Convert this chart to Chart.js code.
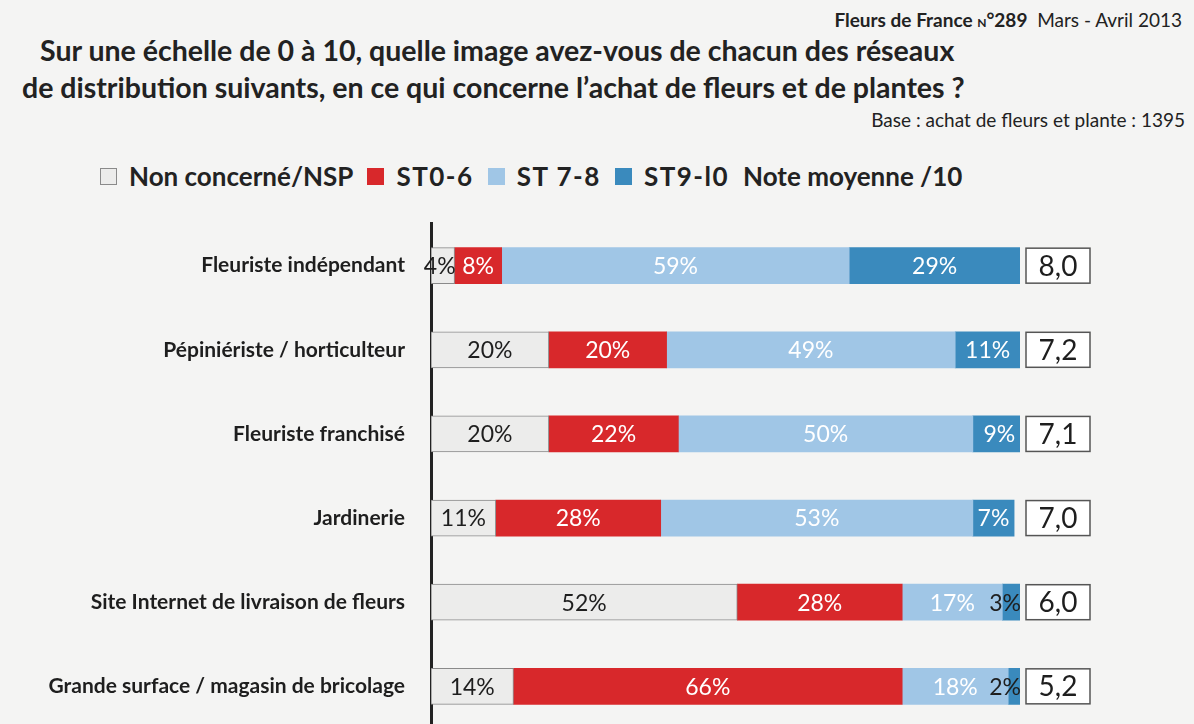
<!DOCTYPE html>
<html>
<head>
<meta charset="utf-8">
<script src="https://cdn.jsdelivr.net/npm/chart.js@4.4.0/dist/chart.umd.min.js"></script>
<style>
  html, body { margin: 0; padding: 0; }
  body { width: 1194px; height: 724px; overflow: hidden; background: #f4f4f3; font-family: Lato, "Open Sans", sans-serif; color: #222; position: relative; }
  .header { position: absolute; right: 12px; top: 8px; font-size: 19px; white-space: nowrap; }
  .header b { font-weight: 700; }
  .header .n { font-size: 12px; font-weight: 700; }
  .title { position: absolute; left: 0; top: 32px; font-size: 28.5px; font-weight: 700; line-height: 37px; white-space: nowrap; }
  .title .l1 { padding-left: 40px; }
  .title .l2 { padding-left: 22px; }
  .base { position: absolute; right: 9px; top: 108px; font-size: 19px; white-space: nowrap; }
  #legend { position: absolute; left: 100px; top: 160px; font-size: 26px; font-weight: 700; white-space: nowrap; display: flex; align-items: center; }
  #legend .sw { display: inline-block; width: 15px; height: 15px; border: 1px solid #777; margin: 0 12px 0 0; }
  #legend .it { display: inline-flex; align-items: center; margin-right: 14px; }
  #legend .st { letter-spacing: 1.5px; }
  .wrap { position: absolute; left: 0; top: 185px; width: 1194px; height: 582px; }
</style>
</head>
<body>
<div class="header"><b>Fleurs de France <span class="n">N</span>°289</b>&nbsp; Mars - Avril 2013</div>
<div class="title">
  <div class="l1">Sur une échelle de 0 à 10, quelle image avez-vous de chacun des réseaux</div>
  <div class="l2">de distribution suivants, en ce qui concerne l’achat de fleurs et de plantes ?</div>
</div>
<div class="base">Base : achat de fleurs et plante : 1395</div>
<div id="legend"></div>
<div class="wrap"><canvas id="grafico"></canvas></div>

<script>
// Données
var categories = ["Fleuriste indépendant", "Pépiniériste / horticulteur", "Fleuriste franchisé",
  "Jardinerie", "Site Internet de livraison de fleurs", "Grande surface / magasin de bricolage"];
var seriesNames = ["Non concerné/NSP", "ST0-6", "ST 7-8", "ST9-l0"];
var nonConcerne = [4, 20, 20, 11, 52, 14];
var st06 = [8, 20, 22, 28, 28, 66];
var st78 = [59, 49, 50, 53, 17, 18];
var st910 = [29, 11, 9, 7, 3, 2];
var noteMoyenne = ["8,0", "7,2", "7,1", "7,0", "6,0", "5,2"];
var noteLabel = "Note moyenne /10";

var fills = ["#ececeb", "#d8282b", "#a0c6e6", "#3a8abd"];
var borders = ["#8a8a8a", "#d8282b", "#a0c6e6", "#3a8abd"];
var textColors = ["#1e1e1e", "#ffffff", "#ffffff", "#ffffff"];

// legende html
var lg = document.getElementById("legend");
seriesNames.forEach(function (n, i) {
  var s = document.createElement("span");
  s.className = "it";
  s.innerHTML = '<span class="sw" style="background:' + fills[i] + ';border-color:' + borders[i] + '"></span>' +
    '<span class="' + (i > 0 ? "st" : "") + '">' + n + '</span>';
  lg.appendChild(s);
});
var nl = document.createElement("span");
nl.className = "it";
nl.textContent = noteLabel;
lg.appendChild(nl);

// labels + boites de note
var labelsPlugin = {
  id: "labelsPlugin",
  afterDatasetsDraw: function (chart) {
    var ctx = chart.ctx;
    var xs = chart.scales.x;
    ctx.save();
    ctx.font = "23px Lato";
    ctx.textBaseline = "middle";
    chart.data.datasets.forEach(function (ds, di) {
      var meta = chart.getDatasetMeta(di);
      meta.data.forEach(function (bar, i) {
        var v = ds.data[i];
        var txt = v + "%";
        var left = Math.min(bar.base, bar.x), right = Math.max(bar.base, bar.x);
        var w = ctx.measureText(txt).width;
        if (w > right - left - 4) {
          ctx.fillStyle = "#1e1e1e";
          ctx.textAlign = "right";
          ctx.fillText(txt, right + 1, bar.y + 1);
        } else {
          ctx.fillStyle = textColors[di];
          ctx.textAlign = "center";
          ctx.fillText(txt, (left + right) / 2, bar.y + 1);
        }
      });
    });
    // note moyenne
    var meta0 = chart.getDatasetMeta(0);
    var bx = xs.getPixelForValue(100) + 6;
    meta0.data.forEach(function (bar, i) {
      var h = 35, bw = 64;
      ctx.fillStyle = "#ffffff";
      ctx.fillRect(bx, bar.y - h / 2, bw, h);
      ctx.strokeStyle = "#555";
      ctx.lineWidth = 1.5;
      ctx.strokeRect(bx, bar.y - h / 2, bw, h);
      ctx.fillStyle = "#1e1e1e";
      ctx.font = "28px Lato";
      ctx.textAlign = "center";
      ctx.fillText(noteMoyenne[i], bx + bw / 2, bar.y + 1);
    });
    ctx.restore();
  }
};

var valeurs = [nonConcerne, st06, st78, st910];

new Chart(document.getElementById("grafico"), {
  type: "bar",
  data: {
    labels: categories,
    datasets: valeurs.map(function (d, i) {
      return {
        label: seriesNames[i],
        data: d,
        backgroundColor: fills[i],
        borderColor: borders[i],
        borderWidth: i === 0 ? 1 : 0,
        borderSkipped: false,
        barThickness: 36
      };
    })
  },
  options: {
    indexAxis: "y",
    responsive: true,
    maintainAspectRatio: false,
    animation: false,
    layout: { padding: { top: 0, right: 174, bottom: 0, left: 0 } },
    plugins: {
      legend: { display: false },
      tooltip: { enabled: false }
    },
    scales: {
      x: {
        stacked: true,
        min: 0,
        max: 100,
        display: false
      },
      y: {
        stacked: true,
        grid: { display: false, drawTicks: false },
        border: { display: true, color: "#222", width: 3 },
        afterFit: function (s) { s.width = 431; },
        ticks: {
          padding: 26,
          color: "#1e1e1e",
          font: { family: "Lato", size: 21, weight: "bold" }
        }
      }
    }
  },
  plugins: [labelsPlugin]
});
</script>
</body>
</html>
